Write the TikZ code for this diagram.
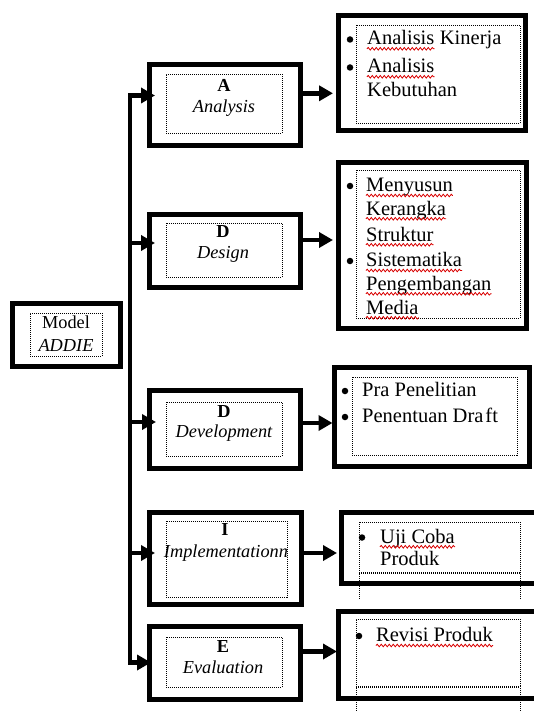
\documentclass[tikz,border=0pt]{standalone}
\usepackage{fontspec}
\setmainfont{Liberation Serif}
\usetikzlibrary{arrows.meta,decorations.pathmorphing}
\tikzset{
  obox/.style={draw, line width=5pt, outer sep=0pt, inner sep=0pt},
  ibox/.style={draw, line width=0.9pt, dash pattern=on 1pt off 1pt, outer sep=0pt, inner sep=0pt},
  dotline/.style={line width=0.9pt, dash pattern=on 1pt off 1pt},
  trunk/.style={line width=4.5pt, line cap=rect},
  arr/.style={line width=4.5pt, -{Triangle[length=14pt,width=15pt]}},
  lbl/.style={anchor=base, inner sep=0pt, font=\fontsize{18.3}{21}\selectfont},
  lbli/.style={anchor=base, inner sep=0pt, font=\fontsize{18.3}{21}\selectfont\itshape},
  lblb/.style={anchor=base, inner sep=0pt, font=\fontsize{18.3}{21}\selectfont\bfseries},
  txt/.style={anchor=base west, inner sep=0pt, font=\fontsize{20.5}{24}\selectfont},
  bul/.style={circle, fill, inner sep=0pt, minimum size=6.5pt},
  squig/.style={draw=red!85!black, line width=0.8pt, decorate, decoration={snake, segment length=4pt, amplitude=1.3pt}},
}
\newcommand{\squigunder}[1]{\draw[squig] ([yshift=-3.8pt]#1.base west) -- ([yshift=-3.8pt]#1.base east);}
\begin{document}
\begin{tikzpicture}[x=1pt,y=-1pt]
\useasboundingbox (0,0) rectangle (534,711);
\clip (0,0) rectangle (534,711);
\fill[white] (0,0) rectangle (534,711);

% ---------- left node ----------
\node[obox, minimum width=108pt, minimum height=63pt] (M) at (66.5,335) {};
\node[ibox, minimum width=72pt, minimum height=43pt] (Mi) at (66,334.5) {};
\node[lbl] (mt1) at (66,328) {Model};
\node[lbli] (mt2) at (66,351) {ADDIE};

% ---------- middle boxes ----------
\node[obox, minimum width=151pt, minimum height=81pt] (A) at (224.5,105) {};
\node[ibox, minimum width=116pt, minimum height=59pt] (Ai) at (224,103.5) {};
\node[lblb] (at1) at (224,92) {A};
\node[lbli] (at2) at (224,113) {Analysis};

\node[obox, minimum width=151pt, minimum height=73pt] (D1) at (224.5,251) {};
\node[ibox, minimum width=116pt, minimum height=54pt] (D1i) at (224,250) {};
\node[lblb] (d1t1) at (223,237) {D};
\node[lbli] (d1t2) at (223,258) {Design};

\node[obox, minimum width=151pt, minimum height=77.5pt] (D2) at (224.5,429.25) {};
\node[ibox, minimum width=116pt, minimum height=54pt] (D2i) at (224,429) {};
\node[lblb] (d2t1) at (224,417) {D};
\node[lbli] (d2t2) at (224,437) {Development};

\node[obox, minimum width=152pt, minimum height=92.5pt] (I) at (225,558.25) {};
\node[ibox, minimum width=121pt, minimum height=76pt] (Ii) at (226.5,559) {};
\node[lblb] (it1) at (225,535) {I};
\node[lbli] (it2) at (226,557) {Implementationn};

\node[obox, minimum width=151pt, minimum height=72.5pt] (E) at (224.5,662.75) {};
\node[ibox, minimum width=116pt, minimum height=50pt] (Ei) at (224,662) {};
\node[lblb] (et1) at (223,652) {E};
\node[lbli] (et2) at (223,673) {Evaluation};

% ---------- right boxes ----------
\node[obox, minimum width=187pt, minimum height=115pt] (R1) at (431.5,73.5) {};
\node[ibox, minimum width=164pt, minimum height=98pt] (R1i) at (438,74) {};
\node[bul] (b11) at (350,39.5) {};
\node[bul] (b12) at (350,67.5) {};
\node[txt] (r11) at (367,45) {Analisis};
\node[txt] (r11b) at ([xshift=5.1pt]r11.base east) {Kinerja};
\node[txt] (r12) at (367,73) {Analisis};
\node[txt] (r13) at (367,97) {Kebutuhan};
\squigunder{r11}\squigunder{r12}

\node[obox, minimum width=188pt, minimum height=165.5pt] (R2) at (432,245.25) {};
\node[ibox, minimum width=164pt, minimum height=148pt] (R2i) at (438,244) {};
\node[bul] (b21) at (350,186) {};
\node[bul] (b22) at (350,261) {};
\node[txt] (r21) at (366,191.7) {Menyusun};
\node[txt] (r22) at (366,215) {Kerangka};
\node[txt] (r23) at (366,241) {Struktur};
\node[txt] (r24) at (366,266.7) {Sistematika};
\node[txt] (r25) at (366,290) {Pengembangan};
\node[txt] (r26) at (366,314) {Media};
\squigunder{r21}\squigunder{r22}\squigunder{r23}\squigunder{r24}\squigunder{r25}\squigunder{r26}

\node[obox, minimum width=194.5pt, minimum height=99pt] (R3) at (431.75,416.5) {};
\node[ibox, minimum width=165pt, minimum height=78pt] (R3i) at (434.5,416) {};
\node[bul] (b31) at (345,391) {};
\node[bul] (b32) at (345,417) {};
\node[txt] (r31) at (362,396.7) {Pra Penelitian};
\node[txt] (r32) at (362,422.7) {Penentuan Dra\kern2pt ft};

\node[obox, minimum width=204pt, minimum height=71pt] (R4) at (443,547.5) {};
\node[ibox, minimum width=161pt, minimum height=50pt] (R4i) at (439.5,547) {};
\draw[dotline] (R4i.south west) -- ++(0,28);
\draw[dotline] (R4i.south east) -- ++(0,28);
\draw[dotline] ([yshift=-1.5pt]R4i.south west) -- ([yshift=-1.5pt]R4i.south east);
\node[bul] (b41) at (362,537.5) {};
\node[txt] (r41) at (380,543) {Uji Coba};
\node[txt] (r42) at (380,565) {Produk};
\squigunder{r41}

\node[obox, minimum width=207pt, minimum height=87pt] (R5) at (441.5,654.5) {};
\node[ibox, minimum width=164pt, minimum height=67pt] (R5i) at (438,652.5) {};
\draw[dotline] (R5i.south west) -- ++(0,30);
\draw[dotline] (R5i.south east) -- ++(0,30);
\draw[dotline] ([yshift=-1.5pt]R5i.south west) -- ([yshift=-1.5pt]R5i.south east);
\node[bul] (b51) at (359,636) {};
\node[txt] (r51) at (376,641.7) {Revisi Produk};
\squigunder{r51}

% ---------- trunk and connectors ----------
\coordinate (tT) at (130,95.5);
\coordinate (j2) at (130,243);
\coordinate (j3) at (130,422);
\coordinate (j4) at (130,553);
\coordinate (tB) at (130,662.5);
\draw[trunk] (tT) -- (tB);
\draw[arr] (tT) -- ([xshift=6pt]A.west |- tT);
\draw[arr] (j2) -- ([xshift=6pt]D1.west |- j2);
\draw[arr] (j3) -- ([xshift=7pt]D2.west |- j3);
\draw[arr] (j4) -- ([xshift=6pt]I.west |- j4);
\draw[arr] (tB) -- ([xshift=2pt]E.west |- tB);

\coordinate (y1) at (0,93.3);
\coordinate (y2) at (0,240);
\coordinate (y3) at (0,423);
\coordinate (y4) at (0,553);
\coordinate (y5) at (0,651.5);
\draw[arr] (A.east |- y1) -- ([xshift=-5pt]R1.west |- y1);
\draw[arr] (D1.east |- y2) -- ([xshift=-5pt]R2.west |- y2);
\draw[arr] (D2.east |- y3) -- ([xshift=-2pt]R3.west |- y3);
\draw[arr] (I.east |- y4) -- ([xshift=-4pt]R4.west |- y4);
\draw[arr] (E.east |- y5) -- ([xshift=-1pt]R5.west |- y5);
\end{tikzpicture}
\end{document}
